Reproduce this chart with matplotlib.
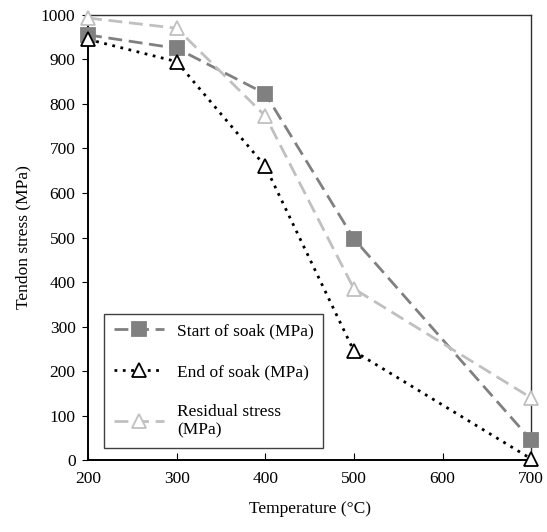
import matplotlib
matplotlib.use('Agg')
import matplotlib.pyplot as plt

plt.rcParams['font.family'] = ['Liberation Serif', 'DejaVu Serif']

# data
temperature = [200, 300, 400, 500, 700]
start_of_soak = [955, 925, 823, 497, 45]
end_of_soak = [945, 895, 660, 245, 3]
residual_stress = [993, 970, 773, 385, 140]

series_labels = ['Start of soak (MPa)', 'End of soak (MPa)',
                 'Residual stress\n(MPa)']

fig = plt.figure(figsize=(5.47, 5.32), dpi=100)
ax = fig.add_axes([0.161, 0.135, 0.81, 0.837])

styles = [
    dict(color='#808080', linestyle=(0, (5, 2.4)), marker='s',
         markerfacecolor='#808080', markeredgecolor='#808080'),
    dict(color='black', linestyle=(0, (1.0, 2.0)), marker='^',
         markerfacecolor='white', markeredgecolor='black'),
    dict(color='#c0c0c0', linestyle=(0, (5, 2.4)), marker='^',
         markerfacecolor='white', markeredgecolor='#c0c0c0'),
]

handles = []
for vals, st in zip([start_of_soak, end_of_soak, residual_stress], styles):
    line, = ax.plot(temperature, vals, linewidth=2.0, markersize=10,
                    markeredgewidth=1.3, dash_capstyle='butt',
                    clip_on=False, zorder=3, **st)
    handles.append(line)

ax.set_xlim(200, 700)
ax.set_ylim(0, 1000)
ax.set_xticks(range(200, 701, 100))
ax.set_yticks(range(0, 1001, 100))
ax.tick_params(axis='x', direction='in', length=5, labelsize=12.5, pad=8)
ax.tick_params(axis='y', direction='out', length=4, labelsize=12.5, pad=5)
ax.set_xlabel('Temperature (°C)', fontsize=12.5, labelpad=10)
ax.set_ylabel('Tendon stress (MPa)', fontsize=12.5, labelpad=7)

for side in ['left', 'bottom']:
    ax.spines[side].set_linewidth(1.4)
for side in ['top', 'right']:
    ax.spines[side].set_linewidth(1.0)
    ax.spines[side].set_color('#303030')

leg = ax.legend(handles=handles, labels=series_labels,
                loc='lower left', bbox_to_anchor=(0.036, 0.027),
                fontsize=12.5, handlelength=2.9, handletextpad=0.75,
                labelspacing=1.4, borderpad=0.55, fancybox=False,
                edgecolor='#404040', framealpha=1, borderaxespad=0)
leg.get_frame().set_linewidth(1.0)

fig.savefig('out.png', dpi=100)
